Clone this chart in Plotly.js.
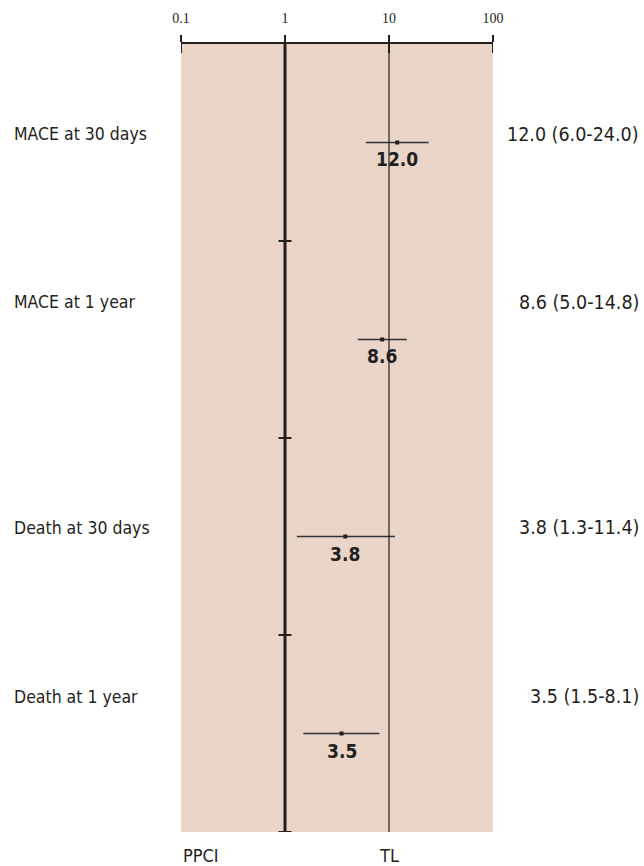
<!DOCTYPE html>
<html>
<head>
<meta charset="utf-8">
<script src="https://cdn.plot.ly/plotly-3.0.1.min.js"></script>
<style>html,body{margin:0;padding:0;background:#fff;}#chart{width:644px;height:866px;}</style>
</head>
<body>
<div id="chart"></div>
<script>
// ---- data ----
const outcomes = ["MACE at 30 days", "MACE at 1 year", "Death at 30 days", "Death at 1 year"];
const estimates = [12.0, 8.6, 3.8, 3.5];
const ciLow = [6.0, 5.0, 1.3, 1.5];
const ciHigh = [24.0, 14.8, 11.4, 8.1];
const tickValues = [0.1, 1, 10, 100];
const tickLabels = ["0.1", "1", "10", "100"];
const sideLabels = ["PPCI", "TL"];

// ---- layout constants ----
const W = 644, H = 866;
const ink = "#231f20";
const shade = "#ead3c7";
const sans = "'Liberation Sans Narrow', 'DejaVu Sans Condensed', 'Arial Narrow', sans-serif";
const serif = "'Liberation Serif', 'DejaVu Serif', serif";
const labelShift = [8, 37, 9, 37];
const rows = outcomes.map((_, i) => i);

const traces = [];
rows.forEach(i => {
  traces.push({
    type: "scatter", mode: "lines",
    x: [ciLow[i], ciHigh[i]], y: [i, i],
    line: {color: "#333", width: 1.6},
    hoverinfo: "skip", showlegend: false
  });
});
traces.push({
  type: "scatter", mode: "markers",
  x: estimates, y: rows,
  marker: {symbol: "square", size: 4, color: ink},
  hoverinfo: "skip", showlegend: false
});

const shapes = [];
// shaded panel
shapes.push({type: "rect", xref: "x", yref: "y", x0: 0.1, x1: 100, y0: -0.5, y1: 3.5,
  fillcolor: shade, line: {width: 0}, layer: "below"});
// vertical reference lines
shapes.push({type: "line", xref: "x", yref: "y", x0: 1, x1: 1, y0: -0.5, y1: 3.5,
  line: {color: ink, width: 3}});
shapes.push({type: "line", xref: "x", yref: "y", x0: 10, x1: 10, y0: -0.5, y1: 3.5,
  line: {color: ink, width: 1.2}});
// ticks on the line of no effect
[0.5, 1.5, 2.5, 3.5].forEach(v => {
  shapes.push({type: "line", xref: "paper", yref: "y",
    x0: 278.5 / W, x1: 291.5 / W, y0: v, y1: v, line: {color: ink, width: 2}});
});
// downward halves of top-axis ticks
tickValues.forEach(v => {
  shapes.push({type: "line", xref: "x", yref: "y", ysizemode: "pixel", yanchor: -0.5,
    x0: v, x1: v, y0: 0, y1: -9, line: {color: ink, width: 2}});
});

const annotations = [];
rows.forEach(i => {
  annotations.push({xref: "paper", yref: "y", x: 12 / W, y: i, yshift: labelShift[i],
    xanchor: "left", yanchor: "middle", showarrow: false, text: outcomes[i],
    font: {family: sans, size: 17.5, color: ink}});
  annotations.push({xref: "paper", yref: "y", x: 641 / W, y: i, yshift: labelShift[i],
    xanchor: "right", yanchor: "middle", showarrow: false,
    text: estimates[i].toFixed(1) + " (" + ciLow[i].toFixed(1) + "-" + ciHigh[i].toFixed(1) + ")",
    font: {family: sans, size: 19.5, color: ink}});
  annotations.push({xref: "x", yref: "y", x: Math.log10(estimates[i]), y: i, yshift: -17,
    xanchor: "center", yanchor: "middle", showarrow: false,
    text: "<b>" + estimates[i].toFixed(1) + "</b>",
    font: {family: sans, size: 19, color: ink}});
});
annotations.push({xref: "x", yref: "paper", x: Math.log10(0.1), y: 11 / H, xanchor: "left", yanchor: "middle",
  showarrow: false, text: sideLabels[0], font: {family: sans, size: 18, color: ink}});
annotations.push({xref: "x", yref: "paper", x: Math.log10(10), y: 11 / H, xanchor: "center", yanchor: "middle",
  showarrow: false, text: sideLabels[1], font: {family: sans, size: 18, color: ink}});

const layout = {
  width: W, height: H,
  margin: {l: 0, r: 0, t: 0, b: 0},
  paper_bgcolor: "#ffffff", plot_bgcolor: "rgba(0,0,0,0)",
  showlegend: false,
  xaxis: {
    type: "log", range: [-1, 2], domain: [181 / W, 493 / W],
    side: "top", showgrid: false, zeroline: false,
    showline: true, linecolor: ink, linewidth: 2,
    ticks: "outside", ticklen: 7, tickwidth: 2, tickcolor: ink,
    tickvals: tickValues, ticktext: tickLabels,
    tickfont: {family: serif, size: 14, color: ink},
    ticklabelstandoff: 6,
    fixedrange: true
  },
  yaxis: {
    range: [3.5, -0.5], domain: [34 / H, 1 - 44 / H],
    showgrid: false, zeroline: false, showline: false,
    showticklabels: false, ticks: "", fixedrange: true
  },
  shapes: shapes,
  annotations: annotations
};

Plotly.newPlot("chart", traces, layout, {displayModeBar: false, staticPlot: true});
</script>
</body>
</html>
